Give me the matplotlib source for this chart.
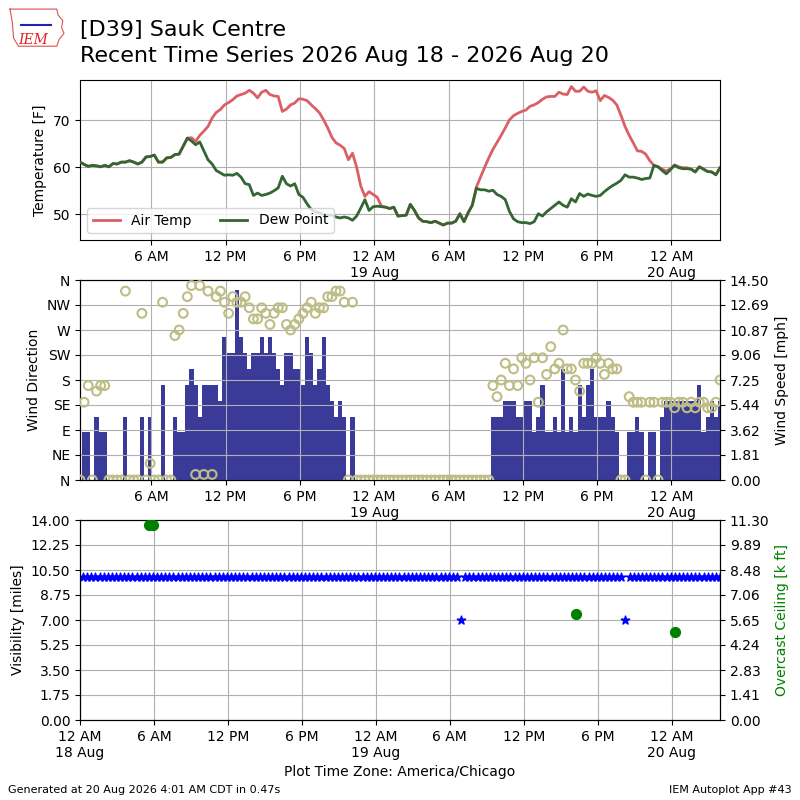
import datetime as dt
import numpy as np
import matplotlib
matplotlib.use("Agg")
import matplotlib.pyplot as plt
import matplotlib.dates as mdates
from matplotlib.ticker import FuncFormatter, FixedLocator

# ---------------- data ----------------
station = "[D39] Sauk Centre"
subtitle = "Recent Time Series 2026 Aug 18 - 2026 Aug 20"
start = dt.datetime(2026, 8, 18, 0, 15)
step_minutes = 20
n_obs = 156
times = [start + dt.timedelta(minutes=step_minutes * i) for i in range(n_obs)]
axis_start = dt.datetime(2026, 8, 18, 0, 0)

tmpf = [
    61.1, 60.6, 60.2, 60.4, 60.3, 60.1, 60.4, 60.1, 60.8, 60.7, 61.1, 61.1,
    61.4, 61.1, 60.7, 61.1, 62.2, 62.3, 62.6, 61.1, 61.1, 62.0, 62.1, 62.7,
    62.8, 64.5, 66.2, 66.3, 65.5, 66.8, 67.7, 68.7, 70.5, 71.7, 72.3, 73.3,
    73.8, 74.4, 75.2, 75.5, 75.8, 76.4, 75.8, 74.8, 76.0, 76.4, 75.5, 75.2,
    75.1, 71.9, 72.4, 73.3, 73.7, 74.6, 74.5, 74.2, 73.3, 72.5, 71.6, 70.1,
    68.4, 66.4, 65.2, 64.7, 64.0, 61.6, 63.0, 60.0, 56.0, 53.8, 54.8, 54.2,
    53.6, 51.7, 51.5, 51.2, 51.5, 49.6, 49.7, 49.8, 52.1, 50.8, 49.2, 48.5,
    48.4, 48.2, 48.5, 48.1, 47.7, 48.1, 48.1, 48.5, 50.1, 48.4, 50.3, 51.9,
    55.8, 57.9, 60.0, 62.0, 63.8, 65.3, 66.8, 68.4, 70.1, 71.0, 71.5, 71.9,
    72.2, 73.0, 73.3, 73.8, 74.5, 75.0, 75.1, 75.1, 76.0, 75.6, 75.5, 77.2,
    76.2, 76.2, 77.1, 76.2, 76.0, 76.3, 74.2, 75.3, 74.9, 74.3, 73.3, 71.1,
    68.7, 66.8, 65.2, 63.5, 63.4, 62.8, 61.4, 60.4, 60.1, 59.6, 59.2, 59.7,
    60.5, 60.1, 59.9, 59.9, 59.6, 59.0, 60.1, 59.6, 59.1, 59.0, 58.4, 59.9,
]
dwpf = [
    61.1, 60.6, 60.2, 60.4, 60.3, 60.1, 60.4, 60.1, 60.8, 60.7, 61.1, 61.1,
    61.4, 61.1, 60.7, 61.1, 62.2, 62.3, 62.6, 61.1, 61.1, 62.0, 62.1, 62.7,
    62.8, 64.5, 66.2, 65.6, 64.8, 65.4, 63.5, 61.6, 60.7, 59.3, 58.8, 58.3,
    58.4, 58.3, 58.7, 57.9, 56.5, 56.3, 54.0, 54.5, 54.0, 54.2, 54.5, 55.0,
    55.6, 58.1, 56.5, 56.0, 56.5, 54.2, 53.6, 52.2, 51.0, 50.5, 50.3, 49.9,
    49.8, 49.8, 49.4, 49.2, 49.4, 49.2, 48.7, 49.6, 51.3, 53.1, 50.8, 51.6,
    51.7, 51.6, 51.5, 51.2, 51.5, 49.6, 49.7, 49.8, 52.1, 50.8, 49.2, 48.5,
    48.4, 48.2, 48.5, 48.1, 47.7, 48.1, 48.1, 48.5, 50.1, 48.4, 50.3, 51.9,
    55.5, 55.2, 55.2, 54.9, 55.1, 54.2, 53.8, 53.1, 50.6, 49.0, 48.4, 48.2,
    48.2, 48.0, 48.4, 50.1, 49.6, 50.5, 51.2, 51.9, 52.6, 51.9, 51.5, 53.3,
    52.6, 54.4, 53.8, 54.3, 54.0, 53.8, 54.0, 54.8, 55.5, 56.1, 56.6, 57.2,
    58.4, 57.9, 57.9, 57.7, 57.4, 57.6, 57.7, 60.4, 60.1, 59.3, 58.6, 59.5,
    60.4, 59.9, 59.7, 59.7, 59.6, 59.0, 60.1, 59.6, 59.1, 59.0, 58.4, 59.9,
]
# wind speed in knots
sknt = [
    0, 3, 3, 0, 4, 3, 3, 0, 0, 0, 0, 4,
    0, 0, 0, 4, 0, 4, 0, 0, 6, 0, 0, 4,
    3, 3, 6, 7, 6, 4, 6, 6, 6, 6, 5, 9,
    8, 8, 12, 9, 8, 7, 8, 8, 9, 8, 9, 8,
    7, 6, 8, 8, 7, 7, 6, 9, 8, 6, 7, 9,
    6, 5, 4, 5, 4, 0, 4, 0, 0, 0, 0, 0,
    0, 0, 0, 0, 0, 0, 0, 0, 0, 0, 0, 0,
    0, 0, 0, 0, 0, 0, 0, 0, 0, 0, 0, 0,
    0, 0, 0, 0, 4, 4, 4, 5, 5, 5, 4, 4,
    5, 5, 3, 4, 6, 3, 3, 4, 3, 7, 3, 4,
    3, 6, 4, 6, 7, 4, 4, 4, 5, 4, 3, 0,
    0, 3, 3, 4, 3, 0, 3, 3, 0, 4, 5, 5,
    5, 5, 5, 5, 5, 5, 6, 3, 4, 5, 4, 5,
]
drct = [
    0, 140, 170, 0, 160, 170, 170, 0, 0, 0, 0, 340,
    0, 0, 0, 300, 0, 30, 0, 0, 320, 0, 0, 260,
    270, 300, 330, 350, 10, 350, 10, 340, 10, 330, 340, 320,
    300, 330, 320, 320, 330, 310, 290, 290, 310, 300, 280, 300,
    310, 310, 280, 270, 280, 290, 300, 310, 320, 300, 310, 310,
    330, 330, 340, 340, 320, 0, 320, 0, 0, 0, 0, 0,
    0, 0, 0, 0, 0, 0, 0, 0, 0, 0, 0, 0,
    0, 0, 0, 0, 0, 0, 0, 0, 0, 0, 0, 0,
    0, 0, 0, 0, 170, 150, 180, 210, 170, 200, 170, 220,
    210, 180, 220, 140, 220, 190, 240, 200, 210, 270, 200, 200,
    180, 160, 210, 210, 210, 220, 210, 190, 210, 200, 200, 0,
    0, 150, 140, 140, 140, 0, 140, 140, 0, 140, 140, 140,
    130, 140, 140, 130, 140, 130, 140, 140, 130, 130, 140, 180,
]
vsby = [
    10.0, 10.0, 10.0, 10.0, 10.0, 10.0, 10.0, 10.0, 10.0, 10.0, 10.0, 10.0,
    10.0, 10.0, 10.0, 10.0, 10.0, 10.0, 10.0, 10.0, 10.0, 10.0, 10.0, 10.0,
    10.0, 10.0, 10.0, 10.0, 10.0, 10.0, 10.0, 10.0, 10.0, 10.0, 10.0, 10.0,
    10.0, 10.0, 10.0, 10.0, 10.0, 10.0, 10.0, 10.0, 10.0, 10.0, 10.0, 10.0,
    10.0, 10.0, 10.0, 10.0, 10.0, 10.0, 10.0, 10.0, 10.0, 10.0, 10.0, 10.0,
    10.0, 10.0, 10.0, 10.0, 10.0, 10.0, 10.0, 10.0, 10.0, 10.0, 10.0, 10.0,
    10.0, 10.0, 10.0, 10.0, 10.0, 10.0, 10.0, 10.0, 10.0, 10.0, 10.0, 10.0,
    10.0, 10.0, 10.0, 10.0, 10.0, 10.0, 10.0, 10.0, 7.0, 10.0, 10.0, 10.0,
    10.0, 10.0, 10.0, 10.0, 10.0, 10.0, 10.0, 10.0, 10.0, 10.0, 10.0, 10.0,
    10.0, 10.0, 10.0, 10.0, 10.0, 10.0, 10.0, 10.0, 10.0, 10.0, 10.0, 10.0,
    10.0, 10.0, 10.0, 10.0, 10.0, 10.0, 10.0, 10.0, 10.0, 10.0, 10.0, 10.0,
    7.0, 10.0, 10.0, 10.0, 10.0, 10.0, 10.0, 10.0, 10.0, 10.0, 10.0, 10.0,
    10.0, 10.0, 10.0, 10.0, 10.0, 10.0, 10.0, 10.0, 10.0, 10.0, 10.0, 10.0,
]
ceiling_obs_index = [16, 17, 120, 144]
ceiling_kft = [11.0, 11.0, 6.0, 5.0]

dir_ticks = [0, 45, 90, 135, 180, 225, 270, 315, 360]
dir_labels = ["N", "NE", "E", "SE", "S", "SW", "W", "NW", "N"]
speed_ticks = [0, 1.8125, 3.625, 5.4375, 7.25, 9.0625, 10.875, 12.6875, 14.5]
speed_labels = ["0.00", "1.81", "3.62", "5.44", "7.25", "9.06", "10.87", "12.69", "14.50"]
vis_ticks = [0, 1.75, 3.5, 5.25, 7.0, 8.75, 10.5, 12.25, 14.0]
ceil_ticks = [0, 1.4125, 2.825, 4.2375, 5.65, 7.0625, 8.475, 9.8875, 11.3]
ceil_labels = ["0.00", "1.41", "2.83", "4.24", "5.65", "7.06", "8.48", "9.89", "11.30"]

# ---------------- plot ----------------
plt.rcParams["font.family"] = ["DejaVu Sans"]
fig = plt.figure(figsize=(8, 8), dpi=100)

mph = [s * 1.15 for s in sknt]
tnum = mdates.date2num(times)


def tfmt(x, pos=None):
    d = mdates.num2date(x)
    if d.hour == 0:
        return "12 AM\n%d %s" % (d.day, d.strftime("%b"))
    h = d.hour % 12
    if h == 0:
        h = 12
    return "%d %s" % (h, "AM" if d.hour < 12 else "PM")


def setup_time(ax):
    ax.xaxis.set_major_locator(mdates.HourLocator(byhour=[0, 6, 12, 18]))
    ax.xaxis.set_major_formatter(FuncFormatter(tfmt))


# Top panel: temperature
ax1 = fig.add_axes([0.1, 0.7, 0.8, 0.2])
ax1.plot(times, tmpf, lw=2, color="#db6065", label="Air Temp", zorder=2)
ax1.plot(times, dwpf, lw=2, color="#346633", label="Dew Point", zorder=3)
ax1.set_ylim(44.5, 78.6)
ax1.set_yticks([50, 60, 70])
ax1.set_xlim(times[0], times[-1])
setup_time(ax1)
ax1.grid(True)
ax1.set_ylabel("Temperature [F]")
ax1.legend(loc="lower left", ncol=2)

# Middle panel: wind
ax2 = fig.add_axes([0.1, 0.4, 0.8, 0.25])
ax2b = ax2.twinx()
ax2b.bar(times, mph, width=1.0 / 72.0, color="#3a3a98", align="center", zorder=2)
ax2b.set_ylim(0, 14.5)
ax2b.set_yticks(speed_ticks)
ax2b.set_yticklabels(speed_labels)
ax2b.set_ylabel("Wind Speed [mph]")
ax2.scatter(times, drct, s=40, facecolor="none", edgecolor="#bdbd85", linewidths=1.5, zorder=3)
ax2.set_ylim(0, 360)
ax2.set_yticks(dir_ticks)
ax2.set_yticklabels(dir_labels)
ax2.set_ylabel("Wind Direction")
ax2.set_zorder(ax2b.get_zorder() + 1)
ax2.patch.set_visible(False)
ax2.grid(True)
ax2.set_xlim(times[0], times[-1])
setup_time(ax2)

# Bottom panel: visibility & ceiling
ax3 = fig.add_axes([0.1, 0.1, 0.8, 0.25])
ax3b = ax3.twinx()
ax3.scatter(times, vsby, marker="*", s=40, color="b", zorder=3)
ax3.set_ylim(0, 14)
ax3.set_yticks(vis_ticks)
ax3.yaxis.set_major_formatter(FuncFormatter(lambda v, p: "%.2f" % v))
ax3.set_ylabel("Visibility [miles]")
ax3.grid(True)
ceil_times = [times[i] for i in ceiling_obs_index]
ax3b.scatter(ceil_times, ceiling_kft, marker="o", s=50, color="g", zorder=3)
ax3b.set_ylim(0, 11.3)
ax3b.set_yticks(ceil_ticks)
ax3b.set_yticklabels(ceil_labels)
ax3b.set_ylabel("Overcast Ceiling [k ft]", color="g")
ax3.set_xlim(axis_start, times[-1])
setup_time(ax3)
ax3.set_xlabel("Plot Time Zone: America/Chicago")

# Titles and footer
fig.text(0.1, 0.9625, station, fontsize=16, va="center", ha="left")
fig.text(0.1, 0.93, subtitle, fontsize=16, va="center", ha="left")
fig.text(0.01, 0.0125, "Generated at 20 Aug 2026 4:01 AM CDT in 0.47s", fontsize=8, va="center", ha="left")
fig.text(0.99, 0.0125, "IEM Autoplot App #43", fontsize=8, va="center", ha="right")

# simple IEM logo
lax = fig.add_axes([0.008, 0.935, 0.075, 0.058])
lax.set_xlim(0, 10)
lax.set_ylim(0, 8)
lax.axis("off")
lax.plot([0.6, 8.4, 8.6, 9.4, 9.2, 9.6, 8.8, 8.4, 2.0, 1.2, 1.0, 0.6],
         [7.4, 7.4, 6.4, 5.4, 4.2, 3.2, 2.2, 1.0, 1.0, 2.4, 5.0, 7.4],
         color="#e05050", lw=0.8)
lax.plot([2.5, 7.5], [4.6, 4.6], color="#2020c0", lw=1.5)
lax.text(4.4, 2.1, "IEM", color="#e02020", fontsize=10, style="italic",
         family="DejaVu Serif", ha="center", va="center")

fig.savefig("out.png", dpi=100)
